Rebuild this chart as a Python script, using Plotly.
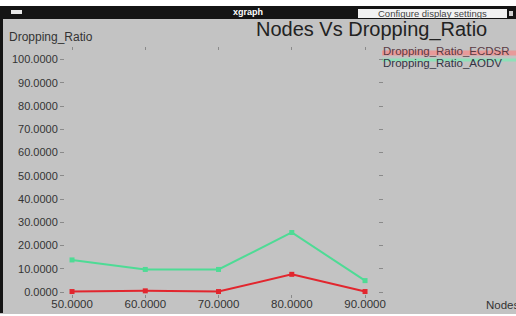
import plotly.graph_objects as go

nodes = [50, 60, 70, 80, 90]
ratio_ecdsr = [0.2, 0.5, 0.2, 7.6, 0.2]
ratio_aodv = [13.8, 9.7, 9.7, 25.6, 4.9]
x_ticks = [50, 60, 70, 80, 90]
y_ticks = [0, 10, 20, 30, 40, 50, 60, 70, 80, 90, 100]

W, H = 516, 316
L, R, T, B = 65, 378, 47, 298

def px(x):
    return (x - L) / (R - L)

def py(y):
    return (B - y) / (B - T)

BG = "#c3c3c3"
FONT = "Liberation Sans, Arial, sans-serif"

fig = go.Figure()
fig.add_trace(go.Scatter(x=nodes, y=ratio_ecdsr, mode="lines+markers",
                         line=dict(color="#e2262e", width=2),
                         marker=dict(symbol="square", size=5, color="#e2262e"),
                         name="Dropping_Ratio_ECDSR"))
fig.add_trace(go.Scatter(x=nodes, y=ratio_aodv, mode="lines+markers",
                         line=dict(color="#4edb95", width=2),
                         marker=dict(symbol="square", size=5, color="#4edb95"),
                         name="Dropping_Ratio_AODV"))

shapes = []
def rect(x0, y0, x1, y1, color, layer="above"):
    shapes.append(dict(type="rect", xref="paper", yref="paper",
                       x0=px(x0), x1=px(x1), y0=py(y1), y1=py(y0),
                       fillcolor=color, line=dict(width=0), layer=layer))

def hline(x0, x1, y, color, w):
    shapes.append(dict(type="line", xref="paper", yref="paper",
                       x0=px(x0), x1=px(x1), y0=py(y), y1=py(y),
                       line=dict(color=color, width=w), layer="below"))

rect(0, 0, 516, 6, "white")
rect(0, 6, 516, 19, "#141414")
rect(0, 6, 3, 313, "#141414")
rect(0, 314, 516, 316, "white")
rect(11, 10, 22, 14, "#e8e8e8")
rect(358, 9, 507, 18, "#f2f2f2")
rect(509, 11, 513, 16, "#d0d0d0")
hline(382, 516, 53, "#e89a9a", 5)
hline(382, 516, 60, "#8fe0b8", 3)

annotations = [
    dict(text="<b>xgraph</b>", x=px(248), y=py(12.5), xref="paper", yref="paper",
         showarrow=False, font=dict(family=FONT, size=9, color="white"),
         xanchor="center", yanchor="middle"),
    dict(text="Configure display settings", x=px(432), y=py(13.5), xref="paper", yref="paper",
         showarrow=False, font=dict(family=FONT, size=9.5, color="#444"),
         xanchor="center", yanchor="middle"),
    dict(text="Nodes Vs Dropping_Ratio", x=px(371), y=py(29), xref="paper", yref="paper",
         showarrow=False, font=dict(family=FONT, size=20, color="#222"),
         xanchor="center", yanchor="middle"),
    dict(text="Dropping_Ratio", x=px(7), y=py(37), xref="paper", yref="paper",
         showarrow=False, font=dict(family=FONT, size=12, color="#333"),
         xanchor="left", yanchor="middle"),
    dict(text="Dropping_Ratio_ECDSR", x=px(381), y=py(51), xref="paper", yref="paper",
         showarrow=False, font=dict(family=FONT, size=11.5, color="#5a3a44"),
         xanchor="left", yanchor="middle"),
    dict(text="Dropping_Ratio_AODV", x=px(381), y=py(63), xref="paper", yref="paper",
         showarrow=False, font=dict(family=FONT, size=11.5, color="#334"),
         xanchor="left", yanchor="middle"),
    dict(text="Nodes", x=px(484), y=py(305), xref="paper", yref="paper",
         showarrow=False, font=dict(family=FONT, size=11.5, color="#333"),
         xanchor="left", yanchor="middle"),
]

fig.update_layout(
    width=W, height=H,
    margin=dict(l=L, r=W - R, t=T, b=H - B),
    paper_bgcolor=BG, plot_bgcolor=BG,
    showlegend=False,
    shapes=shapes, annotations=annotations,
    font=dict(family=FONT, size=11, color="#333"),
)
fig.update_xaxes(range=[49.04, 91.77], tickvals=x_ticks, tickformat=".4f",
                 showgrid=False, zeroline=False, showline=False, automargin=False,
                 ticks="inside", ticklen=3, tickcolor="#8a8a8a", mirror="ticks",
                 ticklabelstandoff=-3,
                 tickfont=dict(size=11.5, color="#333"))
fig.update_yaxes(range=[-2.58, 105.38], tickvals=y_ticks, tickformat=".4f",
                 showgrid=False, zeroline=False, showline=False, automargin=False,
                 ticks="outside", ticklen=4, tickcolor="#8a8a8a", mirror="ticks",
                 tickfont=dict(size=11, color="#333"))

fig.write_html("out.html", config={"displayModeBar": False},
               post_script="document.body.style.margin='0';document.body.style.overflow='hidden';")
